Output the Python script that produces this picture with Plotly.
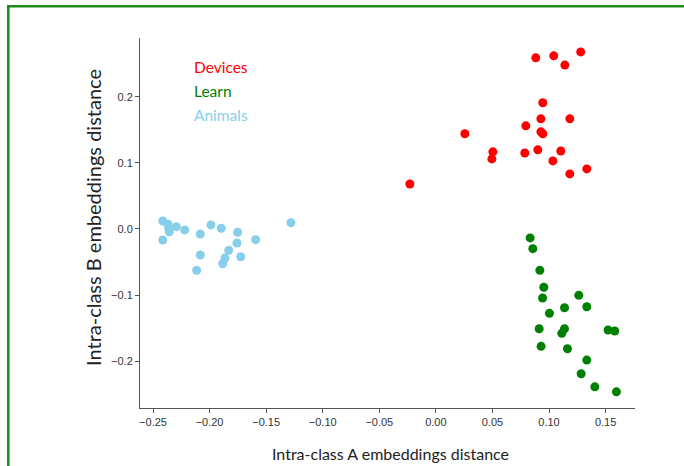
import plotly.graph_objects as go

# Data
devices_x = [0.0883, 0.1042, 0.128, 0.114, 0.0945, 0.0928, 0.1184, 0.0795, 0.0928, 0.0945,
             0.0256, 0.0504, 0.0495, 0.0786, 0.0901, 0.1104, 0.1034, 0.1184, 0.1334, -0.023]
devices_y = [0.259, 0.262, 0.268, 0.248, 0.191, 0.1667, 0.1667, 0.156, 0.147, 0.144,
             0.144, 0.1167, 0.106, 0.115, 0.1197, 0.118, 0.103, 0.0833, 0.0909, 0.068]

learn_x = [0.0833, 0.0857, 0.0919, 0.0954, 0.0943, 0.1263, 0.1334, 0.1137, 0.1004, 0.0913,
           0.1137, 0.1113, 0.1522, 0.1581, 0.093, 0.1163, 0.1334, 0.1284, 0.1405, 0.1596]
learn_y = [-0.0136, -0.0298, -0.0626, -0.0883, -0.1045, -0.1005, -0.1177, -0.1192, -0.1277, -0.151,
           -0.151, -0.158, -0.153, -0.1545, -0.1777, -0.1814, -0.1985, -0.2192, -0.239, -0.2465]

animals_x = [-0.2414, -0.2367, -0.2361, -0.2356, -0.2294, -0.222, -0.2414, -0.2082, -0.1988, -0.1897,
             -0.1752, -0.1758, -0.1593, -0.1281, -0.1831, -0.2082, -0.1864, -0.1725, -0.1884, -0.2114]
animals_y = [0.0121, 0.0071, 0.001, -0.0045, 0.0035, -0.0015, -0.0167, -0.0076, 0.0061, 0.001,
             -0.005, -0.0212, -0.0162, 0.0095, -0.0323, -0.0394, -0.0439, -0.042, -0.0526, -0.0626]

x_ticks = [-0.25, -0.20, -0.15, -0.10, -0.05, 0.00, 0.05, 0.10, 0.15]
y_ticks = [-0.2, -0.1, 0.0, 0.1, 0.2]

series = [
    ("Devices", devices_x, devices_y, "#ff0000"),
    ("Learn", learn_x, learn_y, "#008000"),
    ("Animals", animals_x, animals_y, "#87ceeb"),
]

fig = go.Figure()
for name, xs, ys, col in series:
    fig.add_trace(go.Scatter(x=xs, y=ys, mode="markers", name=name,
                             marker=dict(color=col, size=9, line=dict(width=0))))

W, H = 684, 466
ml, mr, mt, mb = 140, 49, 38, 58
pw, ph = W - ml - mr, H - mt - mb

def px_x(p):
    return (p - ml) / pw

def px_y(p):
    return 1 - (p - mt) / ph

axis_common = dict(showgrid=False, zeroline=False, showline=True, linecolor="#555555",
                   linewidth=1, ticks="outside", ticklen=4, tickcolor="#555555",
                   tickfont=dict(family="Liberation Sans", size=11, color="#333333"))

fig.update_layout(
    width=W, height=H, autosize=False,
    margin=dict(l=ml, r=mr, t=mt, b=mb, pad=0),
    paper_bgcolor="white", plot_bgcolor="white",
    showlegend=False,
    xaxis=dict(range=[-0.2615, 0.176], tickvals=x_ticks, tickformat=".2f", **axis_common),
    yaxis=dict(range=[-0.271, 0.289], tickvals=y_ticks, tickformat=".1f", **axis_common),
)

annotations = []
legend_y = [67, 91, 115]
for (name, xs, ys, col), py in zip(series, legend_y):
    annotations.append(dict(text=name, xref="paper", yref="paper", x=px_x(191.5), y=px_y(py),
                            xanchor="left", yanchor="middle", showarrow=False,
                            font=dict(family="Lato", size=15.5, color=col)))
annotations.append(dict(text="Intra-class A embeddings distance", xref="paper", yref="paper",
                        x=px_x(390), y=px_y(453), xanchor="center", yanchor="middle",
                        showarrow=False, font=dict(family="Lato", size=16, color="#222222")))
annotations.append(dict(text="Intra-class B embeddings distance", xref="paper", yref="paper",
                        x=px_x(93), y=px_y(218), xanchor="center", yanchor="middle",
                        textangle=-90, showarrow=False,
                        font=dict(family="Lato", size=20, color="#222222")))
fig.update_layout(annotations=annotations)

green = "#1b8a1b"
fig.update_layout(shapes=[
    dict(type="line", xref="paper", yref="paper", x0=px_x(7), x1=px_x(700),
         y0=px_y(6.2), y1=px_y(6.2), line=dict(color=green, width=2.5)),
    dict(type="line", xref="paper", yref="paper", x0=px_x(8.3), x1=px_x(8.3),
         y0=px_y(5), y1=px_y(480), line=dict(color=green, width=2.5)),
])

fig.write_html("out.html")
